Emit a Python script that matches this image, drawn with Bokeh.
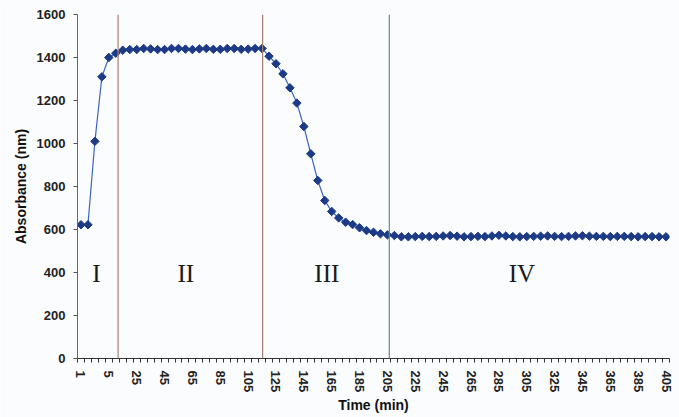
import math
from bokeh.plotting import figure
from bokeh.models import FixedTicker, Span, ColumnDataSource
from bokeh.core.properties import value
from bokeh.embed import file_html
from bokeh.resources import INLINE

# categories (time, min)
times = [1, 2, 3, 4, 5] + list(range(10, 406, 5))

# absorbance values
absorbance = [
    622, 622, 1010, 1310, 1400, 1420, 1434, 1437, 1437, 1442,
    1440, 1437, 1437, 1442, 1442, 1439, 1437, 1440, 1442, 1438,
    1438, 1442, 1442, 1438, 1439, 1442, 1442, 1406, 1371, 1324,
    1259, 1188, 1079, 952, 828, 735, 684, 654, 634, 623,
    608, 595, 587, 580, 575, 572, 566, 566, 567, 568,
    567, 568, 570, 572, 569, 566, 567, 568, 567, 570,
    573, 570, 567, 566, 567, 568, 569, 570, 568, 567,
    568, 570, 571, 569, 568, 568, 567, 568, 568, 567,
    566, 567, 567, 566, 566,
]

# phase boundaries (category-index positions) and their colours
phase_bounds = [5.33, 26.08, 44.27]
phase_colors = ["#a8806e", "#a08070", "#5e8e8e"]

# phase labels
phase_names = ["I", "II", "III", "IV"]
phase_label_x = [2.23, 15.06, 35.3, 63.3]
phase_label_y = [395, 395, 395, 395]

y_ticks = [0, 200, 400, 600, 800, 1000, 1200, 1400, 1600]

bg = "#fbfcfd"
idx = list(range(len(times)))

p = figure(width=679, height=417, x_range=(-0.5, len(times) - 0.5), y_range=(0, 1600),
           output_backend="svg", toolbar_location=None,
           min_border_left=77, min_border_right=10, min_border_top=14, min_border_bottom=59)
p.background_fill_color = bg
p.border_fill_color = bg
p.outline_line_color = None
p.xgrid.visible = False
p.ygrid.visible = False

for loc, col in zip(phase_bounds, phase_colors):
    p.add_layout(Span(location=loc, dimension="height", line_color=col, line_width=1.2))

src = ColumnDataSource(dict(x=idx, y=absorbance))
p.line("x", "y", source=src, line_color="#3a64c8", line_width=1.2)
p.scatter("x", "y", source=src, marker="square", angle=math.pi / 4, size=6,
          fill_color="#1c3a86", line_color="#1c3a86")

p.text(x=phase_label_x, y=phase_label_y, text=phase_names,
       text_font=value("Liberation Serif"), text_font_size="25px",
       text_align="center", text_baseline="middle", text_color="#1a1a1a")

label_idx = list(range(0, len(times), 4))
xa = p.xaxis[0]
xa.ticker = FixedTicker(ticks=label_idx, minor_ticks=[i - 0.5 for i in range(len(times) + 1)])
xa.major_label_overrides = {i: str(times[i]) for i in label_idx}
xa.major_label_orientation = "vertical"
xa.major_tick_out = 0
xa.major_tick_in = 0
xa.minor_tick_out = 4
xa.minor_tick_in = 0
xa.minor_tick_line_color = "#333333"
xa.axis_line_color = "#333333"
xa.major_label_standoff = 8
xa.major_label_text_font = "Liberation Sans"
xa.major_label_text_font_style = "bold"
xa.major_label_text_font_size = "13px"
xa.major_label_text_color = "#222222"
xa.axis_label = "Time (min)"
xa.axis_label_text_font = "Liberation Sans"
xa.axis_label_text_font_style = "bold"
xa.axis_label_text_font_size = "14px"
xa.axis_label_text_color = "#111111"
xa.axis_label_standoff = 2

ya = p.yaxis[0]
ya.ticker = FixedTicker(ticks=y_ticks)
ya.major_tick_out = 4
ya.major_tick_in = 0
ya.minor_tick_out = 0
ya.minor_tick_in = 0
ya.major_tick_line_color = "#555555"
ya.axis_line_color = "#666666"
ya.major_label_standoff = 8
ya.major_label_text_font = "Liberation Sans"
ya.major_label_text_font_style = "bold"
ya.major_label_text_font_size = "13px"
ya.major_label_text_color = "#222222"
ya.axis_label = "Absorbance (nm)"
ya.axis_label_text_font = "Liberation Sans"
ya.axis_label_text_font_style = "bold"
ya.axis_label_text_font_size = "14px"
ya.axis_label_text_color = "#111111"
ya.axis_label_standoff = 5

open("out.html", "w").write(file_html(p, INLINE))
